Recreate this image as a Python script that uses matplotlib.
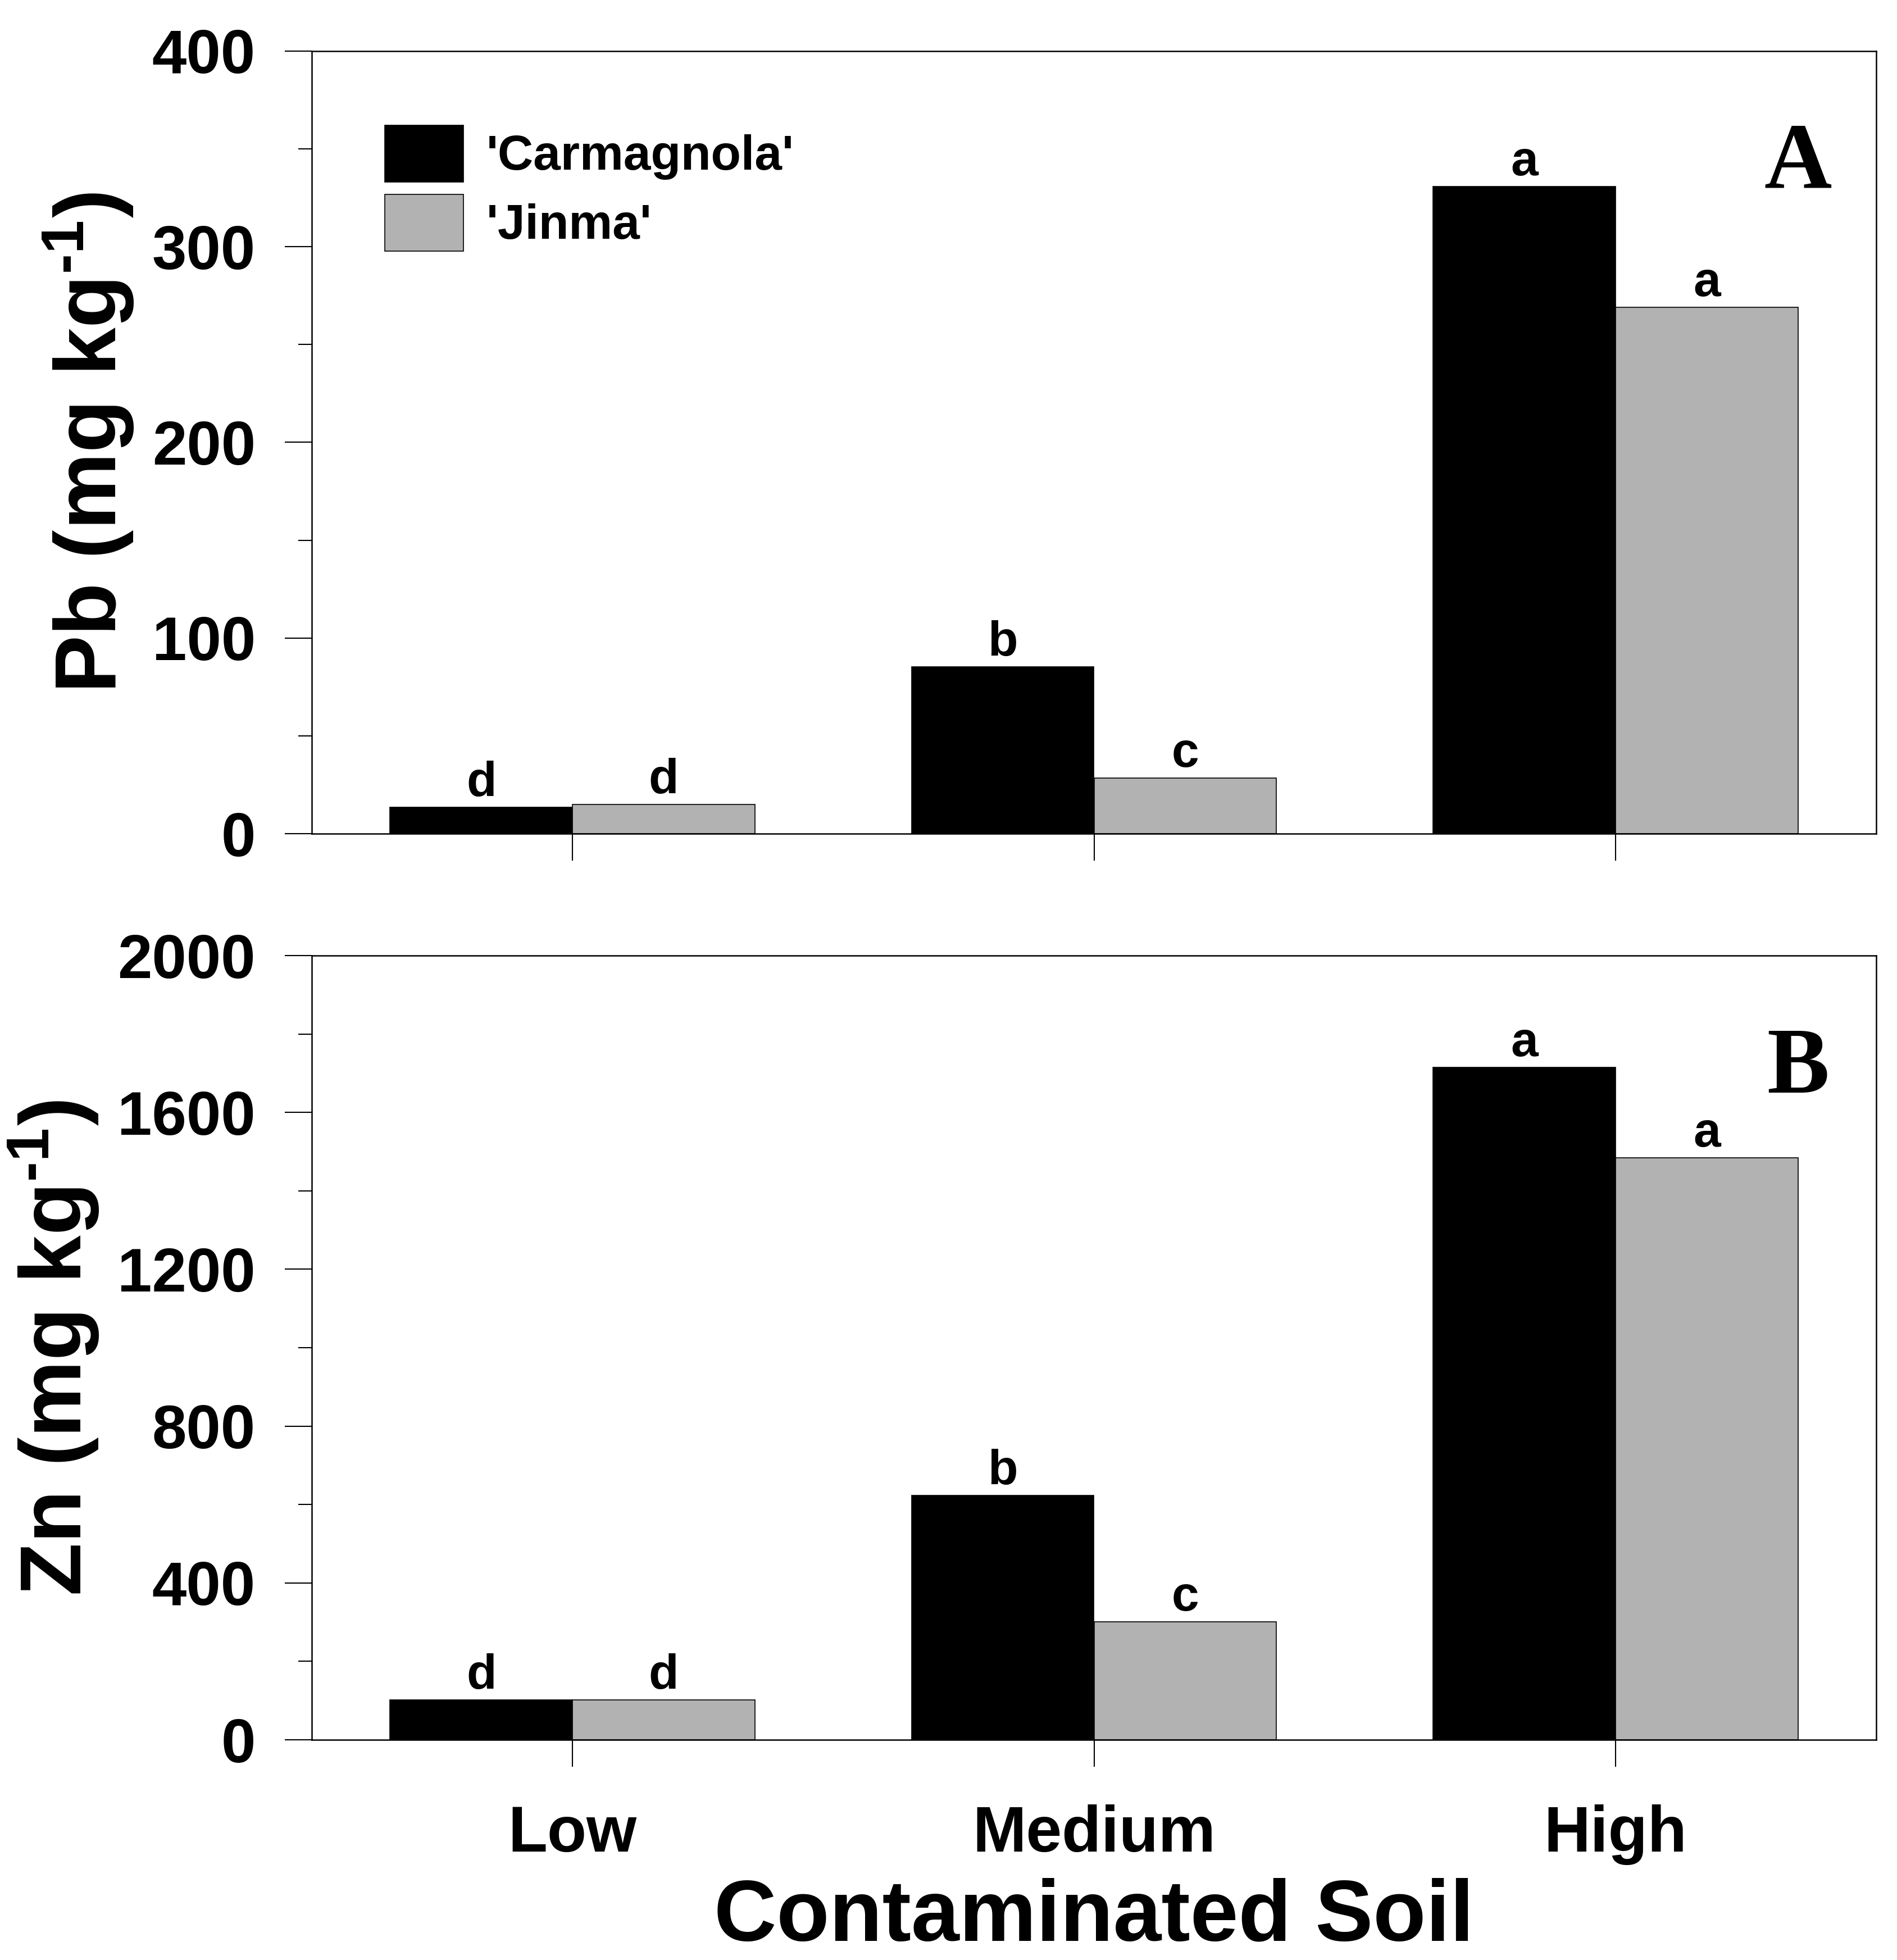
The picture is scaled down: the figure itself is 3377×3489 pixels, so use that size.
import numpy as np
import matplotlib
matplotlib.use('Agg')
import matplotlib.pyplot as plt
from matplotlib.ticker import MultipleLocator

plt.rcParams['font.family'] = ['Liberation Sans', 'DejaVu Sans']
plt.rcParams['font.weight'] = 'bold'
plt.rcParams['mathtext.fontset'] = 'custom'
plt.rcParams['mathtext.rm'] = 'Liberation Sans:bold'
plt.rcParams['mathtext.bf'] = 'Liberation Sans:bold'
plt.rcParams['mathtext.default'] = 'bf'

# data
categories = ['Low', 'Medium', 'High']
cultivars = ["'Carmagnola'", "'Jinma'"]
pb_carmagnola = [13.6, 85.3, 330.7]
pb_jinma = [15.0, 28.4, 269.0]
zn_carmagnola = [102, 623, 1715]
zn_jinma = [102, 301, 1484]
pb_letters_c = ['d', 'b', 'a']
pb_letters_j = ['d', 'c', 'a']
zn_letters_c = ['d', 'b', 'a']
zn_letters_j = ['d', 'c', 'a']

colors = ['black', '#b2b2b2']
width = 0.35

W, H = 3377, 3489
fig = plt.figure(figsize=(W / 300, H / 300), dpi=300)
left = 555 / W
wid = (3340 - 555) / W
ax1 = fig.add_axes([left, 1 - 1484 / H, wid, (1484 - 91) / H])
ax2 = fig.add_axes([left, 1 - 3097 / H, wid, (3097 - 1701) / H])

x = np.arange(len(categories))


def draw(ax, carm, jin, lc, lj, ymax, major, minor, ylabel, panel):
    b1 = ax.bar(x - width / 2, carm, width, color=colors[0], edgecolor='black',
                linewidth=0.4, label=cultivars[0])
    b2 = ax.bar(x + width / 2, jin, width, color=colors[1], edgecolor='black',
                linewidth=0.4, label=cultivars[1])
    for bars, letters in ((b1, lc), (b2, lj)):
        for rect, let in zip(bars, letters):
            ax.annotate(let, (rect.get_x() + rect.get_width() / 2, rect.get_height()),
                        xytext=(0, 4.8), textcoords='offset points',
                        ha='center', va='baseline', fontsize=21, fontweight='bold')
    ax.set_xlim(-0.5, 2.5)
    ax.set_ylim(0, ymax)
    ax.yaxis.set_major_locator(MultipleLocator(major))
    ax.yaxis.set_minor_locator(MultipleLocator(minor))
    ax.set_xticks(x)
    ax.tick_params(axis='both', which='major', direction='out', length=11.5,
                   width=0.5, labelsize=26.5, pad=12.5)
    ax.tick_params(axis='y', which='minor', direction='out', length=5.8, width=0.5)
    ax.tick_params(axis='x', pad=16, labelsize=27.5)
    for s in ax.spines.values():
        s.set_linewidth(0.6)
    ax.set_ylabel(ylabel, fontsize=37, fontweight='bold', labelpad=7)
    ax.text(0.95, 0.825, panel, transform=ax.transAxes, ha='center', va='baseline',
            fontsize=40, fontweight='bold', family='Liberation Serif')


draw(ax1, pb_carmagnola, pb_jinma, pb_letters_c, pb_letters_j, 400, 100, 50,
     r'Pb (mg kg$^{\text{-}1}$)', 'A')
draw(ax2, zn_carmagnola, zn_jinma, zn_letters_c, zn_letters_j, 2000, 400, 200,
     r'Zn (mg kg$^{\text{-}1}$)', 'B')

ax1.set_xticklabels([])
ax2.set_xticklabels(categories)
ax2.set_xlabel('Contaminated Soil', fontsize=37, fontweight='bold', labelpad=5.5)

ax1.legend(loc='upper left', bbox_to_anchor=(0.0467, 0.9055), frameon=False,
           fontsize=21, handlelength=1.6, handleheight=1.4, labelspacing=0.25,
           handletextpad=0.47, borderpad=0, borderaxespad=0)

fig.savefig('out.png', dpi=300)
